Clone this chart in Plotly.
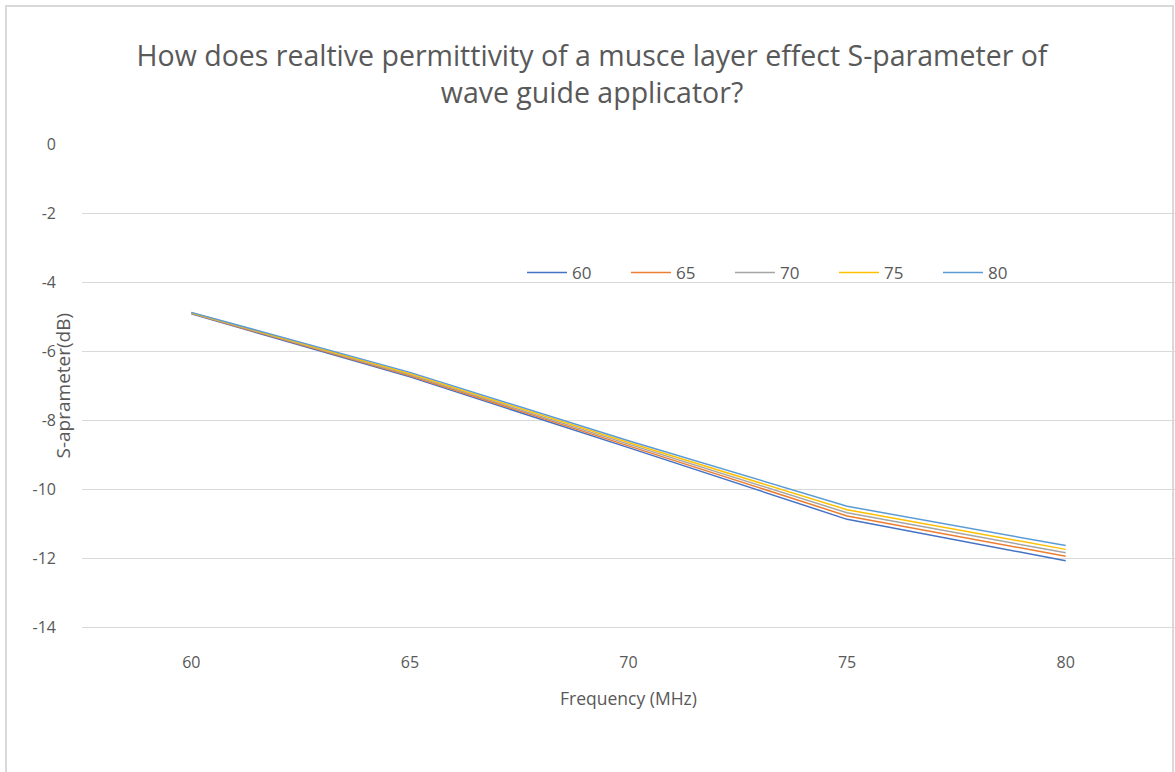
import plotly.graph_objects as go

frequencies = ["60", "65", "70", "75", "80"]
series_names = ["60", "65", "70", "75", "80"]
s60 = [-4.92, -6.75, -8.80, -10.88, -12.08]
s65 = [-4.91, -6.72, -8.75, -10.78, -11.95]
s70 = [-4.90, -6.69, -8.70, -10.69, -11.85]
s75 = [-4.89, -6.66, -8.65, -10.60, -11.75]
s80 = [-4.88, -6.62, -8.60, -10.50, -11.64]
all_series = [s60, s65, s70, s75, s80]
colors = ["#4472C4", "#ED7D31", "#A5A5A5", "#FFC000", "#5B9BD5"]
y_ticks = [0, -2, -4, -6, -8, -10, -12, -14]

FONT = "Open Sans"
GRAY = "#595959"

fig = go.Figure()
for name, vals, col in zip(series_names, all_series, colors):
    fig.add_trace(go.Scatter(
        x=frequencies, y=vals, name=name, mode="lines",
        line=dict(color=col, width=1.5),
    ))

L, R, T, B = 82, 0, 144, 145
W, H = 1175, 772
pw = W - L - R
ph = H - T - B

fig.update_layout(
    width=W, height=H,
    margin=dict(l=L, r=R, t=T, b=B),
    paper_bgcolor="white", plot_bgcolor="white",
    font=dict(family=FONT, color=GRAY, size=16),
    title=dict(
        text="How does realtive permittivity of a musce layer effect S-parameter of<br>wave guide applicator?",
        x=592 / W, xref="container", xanchor="center",
        y=1 - 66 / H, yref="container", yanchor="middle",
        font=dict(family=FONT, size=28.5, color=GRAY),
    ),
    xaxis=dict(
        type="category", range=[-0.5, 4.5],
        showgrid=False, showline=True, linecolor="#D9D9D9", linewidth=1,
        ticks="", ticklabelstandoff=21,
        tickfont=dict(size=16, color=GRAY),
        title=dict(text="Frequency (MHz)", standoff=20, font=dict(size=17.5, color=GRAY)),
        zeroline=False,
    ),
    yaxis=dict(
        range=[-14, 0], tickvals=y_ticks, ticktext=[str(v) for v in y_ticks],
        showgrid=True, gridcolor="#D9D9D9", gridwidth=1,
        showline=False, zeroline=False, ticks="", ticklabelstandoff=25,
        tickfont=dict(size=16, color=GRAY),
    ),
    legend=dict(
        orientation="h", x=(522 - L) / pw, xanchor="left",
        y=(627 - 273) / ph, yanchor="middle",
        bgcolor="rgba(0,0,0,0)", entrywidth=49, entrywidthmode="pixels",
        font=dict(size=17, color=GRAY), itemwidth=40,
    ),
    showlegend=True,
    annotations=[dict(
        text="S-aprameter(dB)", textangle=-90,
        x=(62 - L) / pw, xref="paper", xanchor="center",
        y=0.5, yref="paper", yanchor="middle",
        showarrow=False, font=dict(size=19, color=GRAY),
    )],
    shapes=[dict(
        type="rect", xref="paper", yref="paper",
        x0=(6 - L) / pw, x1=(1173 - L) / pw,
        y0=(627 - 790) / ph, y1=(627 - 6) / ph,
        line=dict(color="#D9D9D9", width=2), fillcolor="rgba(0,0,0,0)",
        layer="below",
    )],
)

fig.write_html("out.html")
